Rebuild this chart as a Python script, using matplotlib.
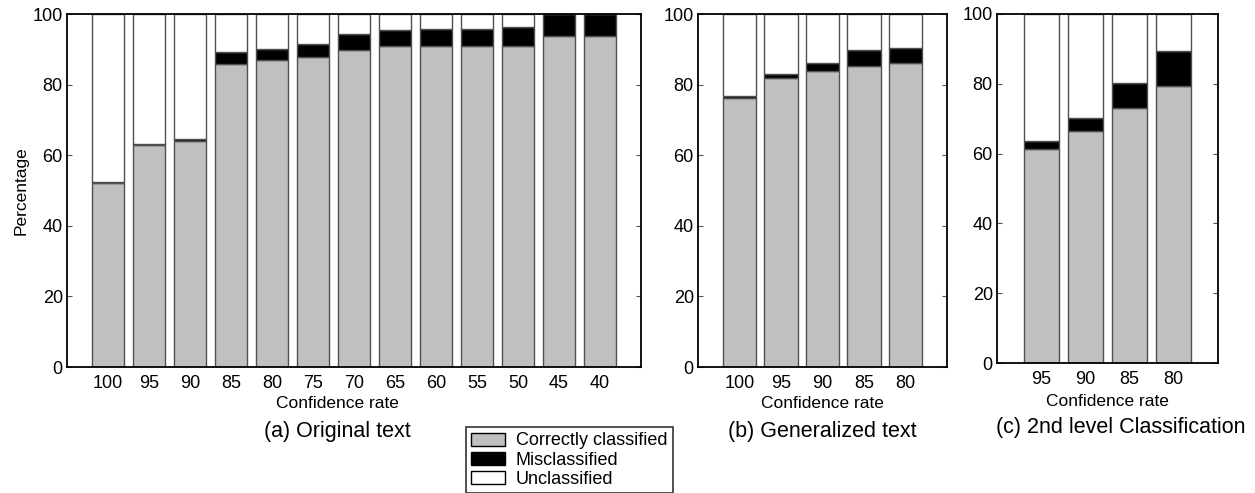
import matplotlib
matplotlib.use("Agg")
import matplotlib.pyplot as plt
import matplotlib.patches as patches
import numpy as np

plt.rcParams['font.family'] = ['Liberation Sans', 'DejaVu Sans']

# Data (percent)
rates_a = ["100", "95", "90", "85", "80", "75", "70", "65", "60", "55", "50", "45", "40"]
correct_a = [52.1, 63.0, 64.0, 85.9, 86.9, 87.8, 89.9, 90.8, 90.8, 90.8, 90.8, 93.9, 93.9]
mis_a = [0.2, 0.3, 0.7, 3.3, 3.3, 3.6, 4.3, 4.7, 4.9, 4.9, 5.4, 6.1, 6.1]

rates_b = ["100", "95", "90", "85", "80"]
correct_b = [76.3, 81.8, 83.9, 85.4, 86.0]
mis_b = [0.4, 1.2, 2.1, 4.4, 4.5]

rates_c = ["95", "90", "85", "80"]
correct_c = [61.3, 66.5, 73.2, 79.3]
mis_c = [2.4, 3.7, 7.0, 10.0]

GRAY = "#c0c0c0"
EDGE = "#505050"

W, H = 1255, 493
fig = plt.figure(figsize=(W / 100, H / 100), dpi=100)


def px_axes(left, right, top, bottom):
    return fig.add_axes([left / W, 1 - bottom / H, (right - left) / W, (bottom - top) / H])


def draw_panel(ax, labels, correct, mis):
    x = np.arange(1, len(labels) + 1)
    correct = np.array(correct)
    mis = np.array(mis)
    unc = 100 - correct - mis
    ax.bar(x, correct, width=0.8, color=GRAY, edgecolor=EDGE, linewidth=1)
    ax.bar(x, mis, width=0.8, bottom=correct, color="black", edgecolor=EDGE, linewidth=1)
    ax.bar(x, unc, width=0.8, bottom=correct + mis, color="white", edgecolor=EDGE, linewidth=1)
    ax.set_xlim(0, len(labels) + 1)
    ax.set_ylim(0, 100)
    ax.set_xticks(x)
    ax.set_xticklabels(labels)
    ax.set_yticks(range(0, 101, 20))
    ax.tick_params(axis='x', length=0, pad=6, labelsize=13)
    ax.tick_params(axis='y', direction='in', length=3.5, width=0.8, color='#555555',
                   left=True, right=True, pad=3, labelsize=13)
    for s in ax.spines.values():
        s.set_linewidth(1.3)
        s.set_color('black')


ax_a = px_axes(67, 641, 14, 367)
draw_panel(ax_a, rates_a, correct_a, mis_a)
ax_a.set_ylabel("Percentage", fontsize=12.5, labelpad=3)

ax_b = px_axes(698, 947, 14, 367)
draw_panel(ax_b, rates_b, correct_b, mis_b)

ax_c = px_axes(997, 1218, 14, 363)
draw_panel(ax_c, rates_c, correct_c, mis_c)

# axis titles and captions
for cx, yl, yc, cap in [(337, 404, 431, "(a) Original text"),
                        (822, 404, 431, "(b) Generalized text"),
                        (1107, 402, 427, None)]:
    fig.text(cx / W, 1 - yl / H, "Confidence rate", ha='center', va='center', fontsize=12.5)
    if cap:
        fig.text(cx / W, 1 - yc / H, cap, ha='center', va='center', fontsize=15.5)
fig.text(1121 / W, 1 - 427 / H, "(c) 2nd level Classification", ha='center', va='center', fontsize=15.5)

# legend
handles = [patches.Patch(facecolor=GRAY, edgecolor='black', label="Correctly classified"),
           patches.Patch(facecolor='black', edgecolor='black', label="Misclassified"),
           patches.Patch(facecolor='white', edgecolor='black', label="Unclassified")]
leg = fig.legend(handles=handles, loc='upper left', bbox_to_anchor=(466 / W, 1 - 427 / H),
                 fontsize=13, frameon=True, fancybox=False, handlelength=1.85, handleheight=0.75,
                 handletextpad=0.6, labelspacing=0.12, borderpad=0.3, borderaxespad=0)
leg.get_frame().set_edgecolor('black')
leg.get_frame().set_linewidth(1.2)

fig.savefig("out.png", dpi=100)
